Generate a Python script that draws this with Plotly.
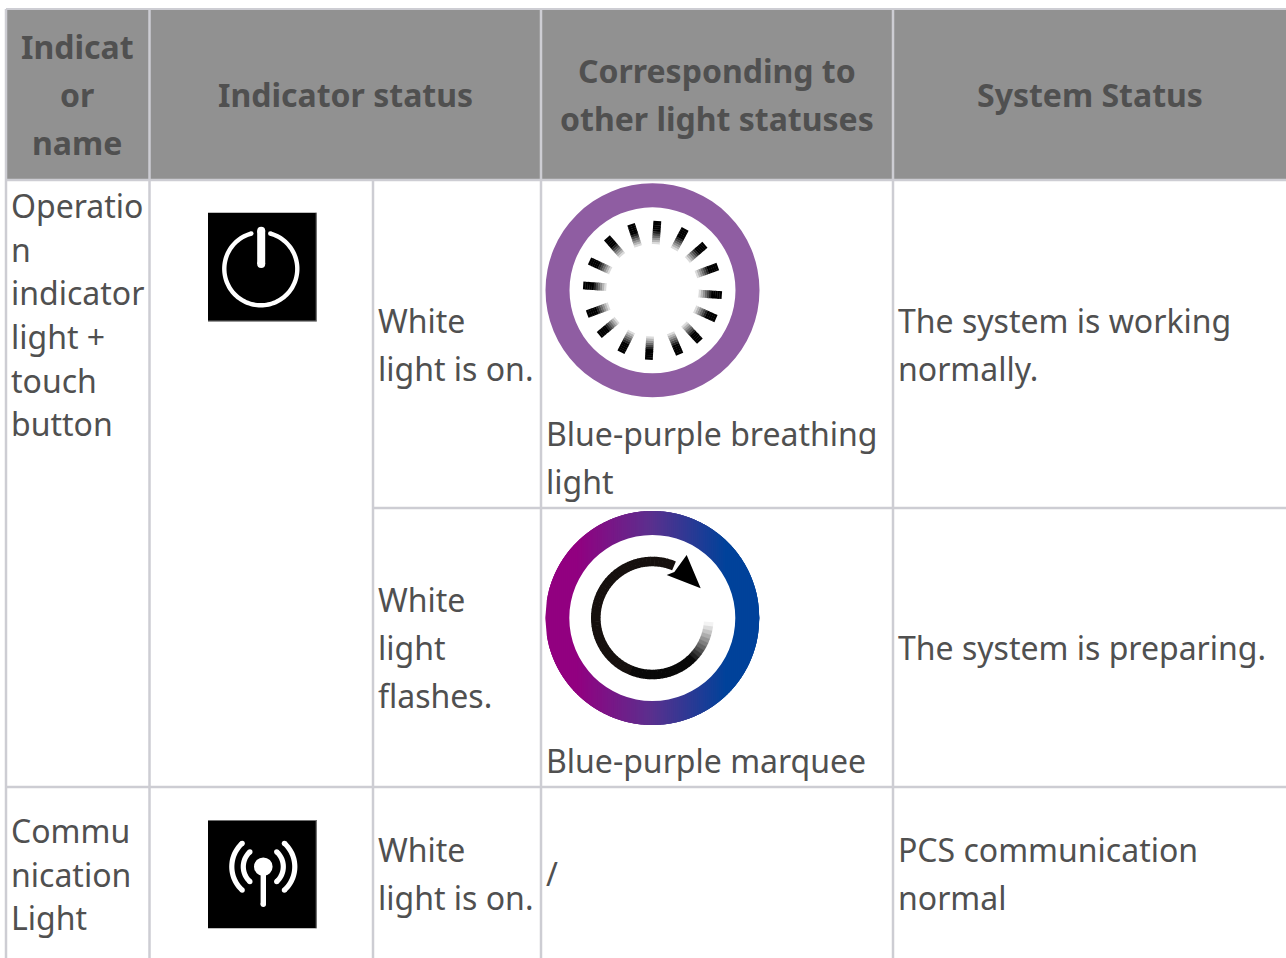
import math
import plotly.graph_objects as go

W, H = 1286, 958
GRID = "#CDCDD3"
HEADER_FILL = "#919191"
TEXT = "#505050"
FONT = "Noto Sans"
TEXT_DY = -1.9

col_edges = [6, 149.5, 373, 541, 893, 1286]
row_edges = [9, 180, 508, 787, 958]

header_lines = [
    ("Indicat", 77, 48), ("or", 77, 96), ("name", 77, 144),
    ("Indicator status", 345, 96),
    ("Corresponding to", 717, 72), ("other light statuses", 717, 120),
    ("System Status", 1090, 96),
]
name_lines = [
    ("Operatio", 10.7, 207), ("n", 10.7, 251), ("indicator", 10.7, 294), ("light +", 10.7, 338),
    ("touch", 10.7, 382), ("button", 10.7, 425),
    ("Commu", 10.7, 832), ("nication", 10.7, 876), ("Light", 10.7, 919),
]
body_lines = [
    ("White", 378, 322), ("light is on.", 378, 370),
    ("White", 378, 601), ("light", 378, 649), ("flashes.", 378, 697),
    ("White", 378, 851), ("light is on.", 378, 899),
    ("Blue-purple breathing", 545.6, 435), ("light", 545.6, 483),
    ("Blue-purple marquee", 545.6, 762), ("/", 545.6, 875),
    ("The system is working", 898, 322), ("normally.", 898, 370),
    ("The system is preparing.", 898, 649),
    ("PCS communication", 898, 851), ("normal", 898, 899),
]
tick_angles = [4, 28, 49, 70, 94, 114, 137, 157, 183, 207, 230, 250, 274, 295, 319, 342]

shapes = []


def poly(pts, fill):
    d = "M" + " L".join(f"{x:.2f},{y:.2f}" for x, y in pts) + " Z"
    shapes.append(dict(type="path", path=d, fillcolor=fill, line=dict(width=0), layer="above"))


def rect(x0, y0, x1, y1, fill):
    shapes.append(dict(type="rect", x0=x0, y0=y0, x1=x1, y1=y1, fillcolor=fill, line=dict(width=0), layer="above"))


def disc(cx, cy, r, fill):
    shapes.append(dict(type="circle", x0=cx - r, y0=cy - r, x1=cx + r, y1=cy + r,
                       fillcolor=fill, line=dict(width=0), layer="above"))


def pt(cx, cy, r, deg):
    a = math.radians(deg)
    return cx + r * math.sin(a), cy - r * math.cos(a)


def arc(cx, cy, r, sw, a0, a1, color, caps=True):
    n = max(4, int(abs(a1 - a0) / 3))
    angs = [a0 + (a1 - a0) * i / n for i in range(n + 1)]
    pts = [pt(cx, cy, r + sw / 2, a) for a in angs] + [pt(cx, cy, r - sw / 2, a) for a in reversed(angs)]
    poly(pts, color)
    if caps:
        for a in (a0, a1):
            px, py = pt(cx, cy, r, a)
            disc(px, py, sw / 2, color)


def mix(c0, c1, t):
    t = min(1, max(0, t))
    return "rgb(%d,%d,%d)" % tuple(round(a + (b - a) * t) for a, b in zip(c0, c1))


# --- table fills and grid
rect(col_edges[0], row_edges[0], W, row_edges[1], HEADER_FILL)
for x, y0, y1 in [
    (col_edges[0], row_edges[0], H), (col_edges[1], row_edges[0], H),
    (col_edges[2], row_edges[1], H), (col_edges[3], row_edges[0], H), (col_edges[4], row_edges[0], H),
]:
    rect(x - 1.25, y0, x + 1.25, y1, GRID)
rect(col_edges[0], row_edges[0] - 1, W, row_edges[0] + 1, GRID)
rect(col_edges[0], row_edges[1] - 1.25, W, row_edges[1] + 1.25, GRID)
rect(col_edges[2], row_edges[2] - 1.25, W, row_edges[2] + 1.25, GRID)
rect(col_edges[0], row_edges[3] - 1.25, W, row_edges[3] + 1.25, GRID)

# --- power icon
rect(208, 212.7, 316.5, 321.3, "#000000")
rect(315.7, 212.7, 316.7, 321.3, "#707070")
rect(208, 320.5, 316.7, 321.5, "#707070")
arc(260.8, 268.8, 36.5, 4.4, 15, 345, "#FFFFFF")
rect(257.2, 230.5, 265.2, 264, "#FFFFFF")
disc(261.2, 230.7, 4, "#FFFFFF")
disc(261.2, 264, 4, "#FFFFFF")

# --- signal icon
rect(208, 820, 316.5, 928.3, "#000000")
rect(315.7, 820, 316.7, 928.3, "#707070")
rect(208, 820, 316.7, 821, "#707070")
scx, scy = 263.3, 866.7
disc(scx, scy, 9.3, "#FFFFFF")
rect(scx - 2.7, scy, scx + 2.7, 904.5, "#FFFFFF")
disc(scx, 904.3, 2.7, "#FFFFFF")
for sign in (1, -1):
    arc(scx, scy, 20, 5.2, 90 * sign - 48 * sign, 90 * sign + 48 * sign, "#FFFFFF")
    arc(scx, scy, 31.5, 5.2, 90 * sign - 48 * sign, 90 * sign + 48 * sign, "#FFFFFF")

# --- breathing ring
bx, by = 652.5, 290.3
disc(bx, by, 107, "#8F5DA2")
disc(bx, by, 83, "#FFFFFF")
for ang in tick_angles:
    outer, inner, half = 69.5, 44, 3.9
    steps = 12
    for i in range(steps):
        r0 = outer - (outer - inner) * i / steps
        r1 = outer - (outer - inner) * (i + 1.15) / steps
        a = math.radians(ang)
        ux, uy = math.sin(a), -math.cos(a)
        vx, vy = math.cos(a), math.sin(a)
        t = (i - 4) / (steps - 5)
        col = mix((0, 0, 0), (255, 255, 255), t)
        poly([(bx + ux * r0 + vx * half, by + uy * r0 + vy * half),
              (bx + ux * r0 - vx * half, by + uy * r0 - vy * half),
              (bx + ux * r1 - vx * half, by + uy * r1 - vy * half),
              (bx + ux * r1 + vx * half, by + uy * r1 + vy * half)], col)

# --- marquee ring with horizontal gradient (painted left to right, each strip overlaps the next)
mx, my = 652.3, 618
R, rin = 107, 83
LEFT, MID, RIGHT = (146, 0, 128), (90, 48, 142), (0, 66, 154)
x = -R
step = 2.0
while x < R:
    x1 = min(R, x + step + 4)
    t = (x + R) / (2 * R)
    t = (t - 0.14) / (0.84 - 0.14)
    col = mix(LEFT, MID, t * 2) if t < 0.5 else mix(MID, RIGHT, (t - 0.5) * 2)
    xs = [x + (x1 - x) * k / 4 for k in range(5)]
    top = [(mx + v, my - math.sqrt(max(0, R * R - v * v))) for v in xs]
    bot = [(mx + v, my + math.sqrt(max(0, R * R - v * v))) for v in reversed(xs)]
    poly(top + bot, col)
    x += step
disc(mx, my, rin, "#FFFFFF")

# arrow arc
ar, asw = 56.5, 9.6
a = 90
while a < 382:
    b = min(382, a + 4)
    t = (a - 92) / 42
    col = mix((255, 255, 255), (22, 16, 14) if a > 200 else (8, 8, 8), t)
    arc(mx, my, ar, asw, a, b + 0.6, col, caps=False)
    a = b
poly([(535 + 455 / 3, 500 + 165 / 3), (535 + 497 / 3, 500 + 265 / 3),
      (535 + 395 / 3, 500 + 225 / 3), (535 + 418 / 3, 500 + 216 / 3)], "#000000")

# --- text
annotations = []
for s, x, y in header_lines:
    annotations.append(dict(text=f"<b>{s}</b>", x=x, y=y + TEXT_DY, xanchor="center", yanchor="middle",
                            font=dict(family=FONT, size=32, color=TEXT)))
for s, x, y in name_lines + body_lines:
    annotations.append(dict(text=s, x=x, y=y + TEXT_DY, xanchor="left", yanchor="middle",
                            font=dict(family=FONT, size=32, color=TEXT)))
for an in annotations:
    an.update(xref="x", yref="y", showarrow=False, borderpad=0, borderwidth=0)

fig = go.Figure()
fig.add_trace(go.Scatter(x=[0, W], y=[0, H], mode="markers", marker=dict(opacity=0), hoverinfo="skip", showlegend=False))
fig.update_layout(
    width=W, height=H, margin=dict(l=0, r=0, t=0, b=0),
    paper_bgcolor="#FFFFFF", plot_bgcolor="#FFFFFF",
    xaxis=dict(range=[0, W], visible=False, fixedrange=True),
    yaxis=dict(range=[H, 0], visible=False, fixedrange=True),
    shapes=shapes, annotations=annotations, showlegend=False,
)
fig.write_html("out.html", config={"displayModeBar": False},
               post_script="document.body.style.margin='0';document.body.style.overflow='hidden';")
